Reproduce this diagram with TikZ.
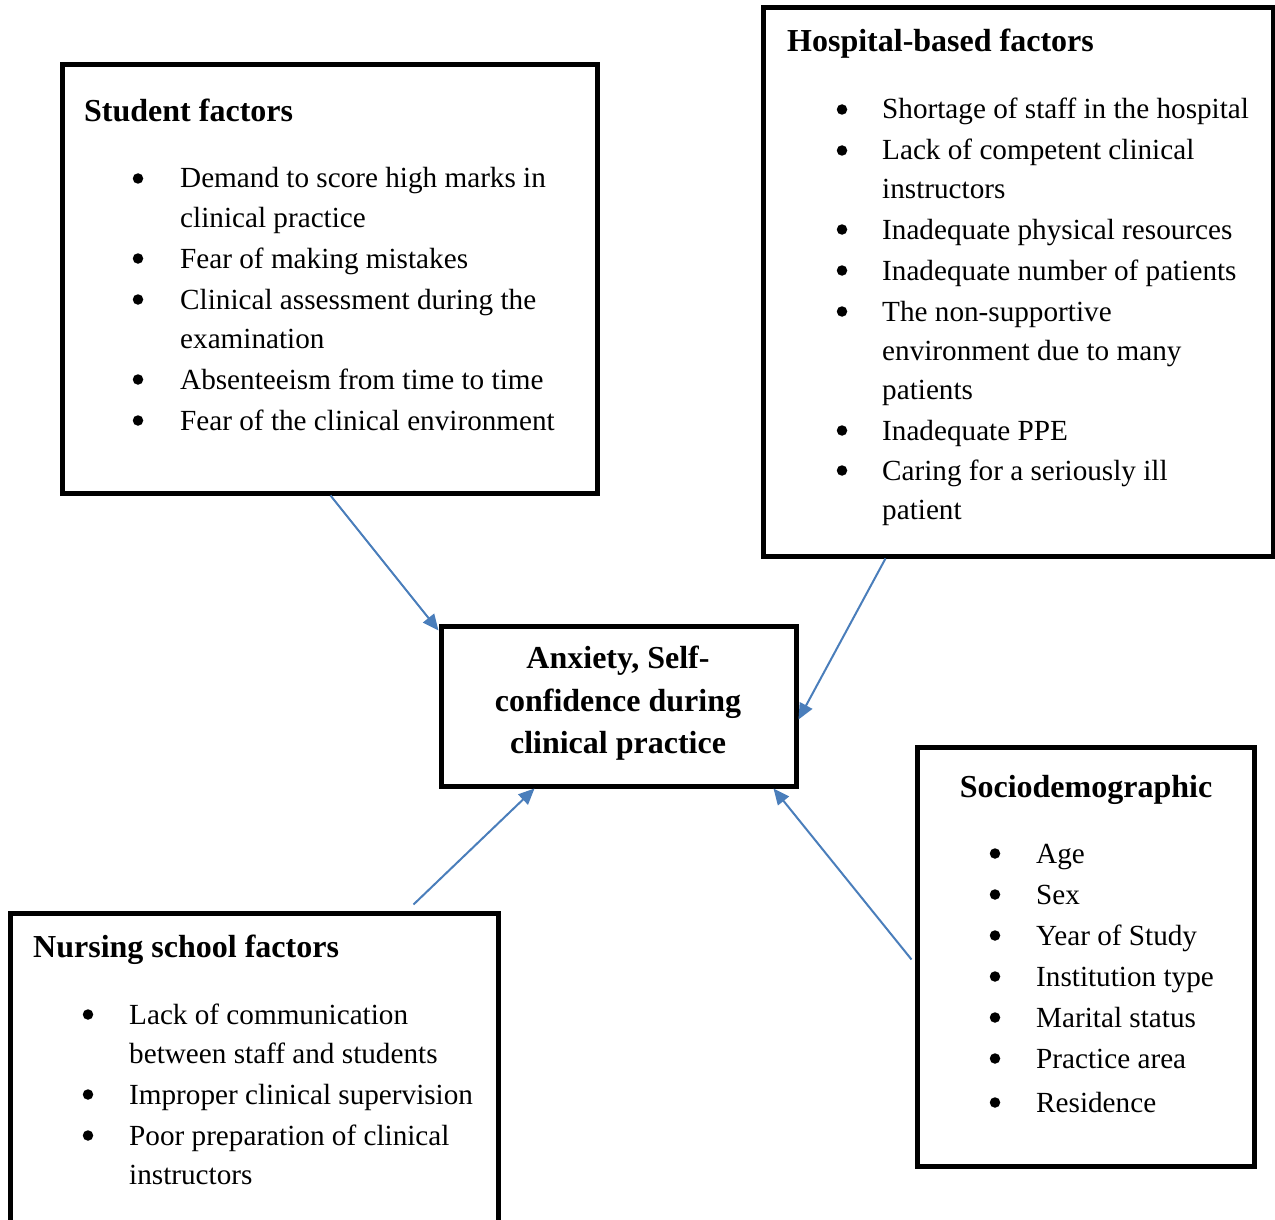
\documentclass[tikz,border=0pt]{standalone}
\usepackage{fontspec}
\setmainfont{Liberation Serif}
\usetikzlibrary{arrows.meta}
\definecolor{arrblue}{HTML}{4A7EBB}
\tikzset{
  box/.style={draw=black, line width=5pt, inner sep=0pt, fill=none},
  body/.style={font=\fontsize{29.2}{35}\selectfont, inner sep=0pt, anchor=base west},
  bul/.style={circle, fill=black, inner sep=0pt, minimum size=10.5pt, yshift=9.5pt},
  ttl/.style={font=\fontsize{32}{38}\selectfont\bfseries, inner sep=0pt, anchor=base west},
  ctr/.style={font=\fontsize{32}{38}\selectfont\bfseries, inner sep=0pt, anchor=base},
  arr/.style={draw=arrblue, line width=2pt, -{Triangle[length=16pt,width=14pt]}}
}
\begin{document}
\begin{tikzpicture}[x=1pt,y=-1pt]
\useasboundingbox (0,0) rectangle (1275,1220);
\clip (0,0) rectangle (1275,1220);
\fill[white] (0,0) rectangle (1275,1220);

% boxes
\node[box, minimum width=535pt, minimum height=428pt] (student) at (329.5,279) {};
\node[box, minimum width=510pt, minimum height=548pt] (hospital) at (1018,282) {};
\node[box, minimum width=355pt, minimum height=160pt] (center) at (618.5,706) {};
\node[box, minimum width=488pt, minimum height=327pt] (nursing) at (254,1076.5) {};
\node[box, minimum width=337pt, minimum height=419pt] (socio) at (1085.5,956.5) {};

% student factors
\node[ttl] (stt) at (84,122) {Student factors};
\foreach \y/\t [count=\i] in {188/Demand to score high marks in, 227/clinical practice, 268/Fear of making mistakes, 309/Clinical assessment during the, 348/examination, 389/Absenteeism from time to time, 430/Fear of the clinical environment}
  \node[body] (st\i) at (180,\y) {\t};
\foreach \y [count=\i] in {188,268,309,389,430}
  \node[bul] (sb\i) at (138,\y) {};

% hospital-based factors
\node[ttl] (hot) at (787,52) {Hospital-based factors};
\foreach \y/\t [count=\i] in {119/Shortage of staff in the hospital, 160/Lack of competent clinical, 198/instructors, 239/Inadequate physical resources, 280/Inadequate number of patients, 321/The non-supportive, 360/environment due to many, 399/patients, 440/Inadequate PPE, 480/Caring for a seriously ill, 519/patient}
  \node[body] (ho\i) at (882,\y) {\t};
\foreach \y [count=\i] in {119,160,239,280,321,440,480}
  \node[bul] (hb\i) at (842,\y) {};

% center
\node[ctr] (c1) at (618,668) {Anxiety, Self-};
\node[ctr] (c2) at (618,711) {confidence during};
\node[ctr] (c3) at (618,753) {clinical practice};

% sociodemographic
\node[ctr] (sot) at (1086,797) {Sociodemographic};
\foreach \y/\t [count=\i] in {863/Age, 904/Sex, 945/Year of Study, 986/Institution type, 1027/Marital status, 1068/Practice area, 1112/Residence}
  \node[body] (so\i) at (1036,\y) {\t};
\foreach \y [count=\i] in {863,904,945,986,1027,1068,1112}
  \node[bul] (sob\i) at (995,\y) {};

% nursing school factors
\node[ttl] (nut) at (33,957) {Nursing school factors};
\foreach \y/\t [count=\i] in {1024/Lack of communication, 1063/between staff and students, 1104/Improper clinical supervision, 1145/Poor preparation of clinical, 1184/instructors}
  \node[body] (nu\i) at (129,\y) {\t};
\foreach \y [count=\i] in {1024,1104,1145}
  \node[bul] (nb\i) at (88,\y) {};

% connectors
\draw[arr] ([xshift=271pt]student.south west) -- ([yshift=-7pt]center.north west);
\draw[arr] ([xshift=125pt]hospital.south west) -- ([yshift=-96pt]center.north east);
\draw[arr] ([xshift=406pt,yshift=6pt]nursing.north west) -- ([xshift=96pt]center.south west);
\draw[arr] ([xshift=-3pt,yshift=-215pt]socio.north west) -- ([xshift=-25pt]center.south east);
\end{tikzpicture}
\end{document}
